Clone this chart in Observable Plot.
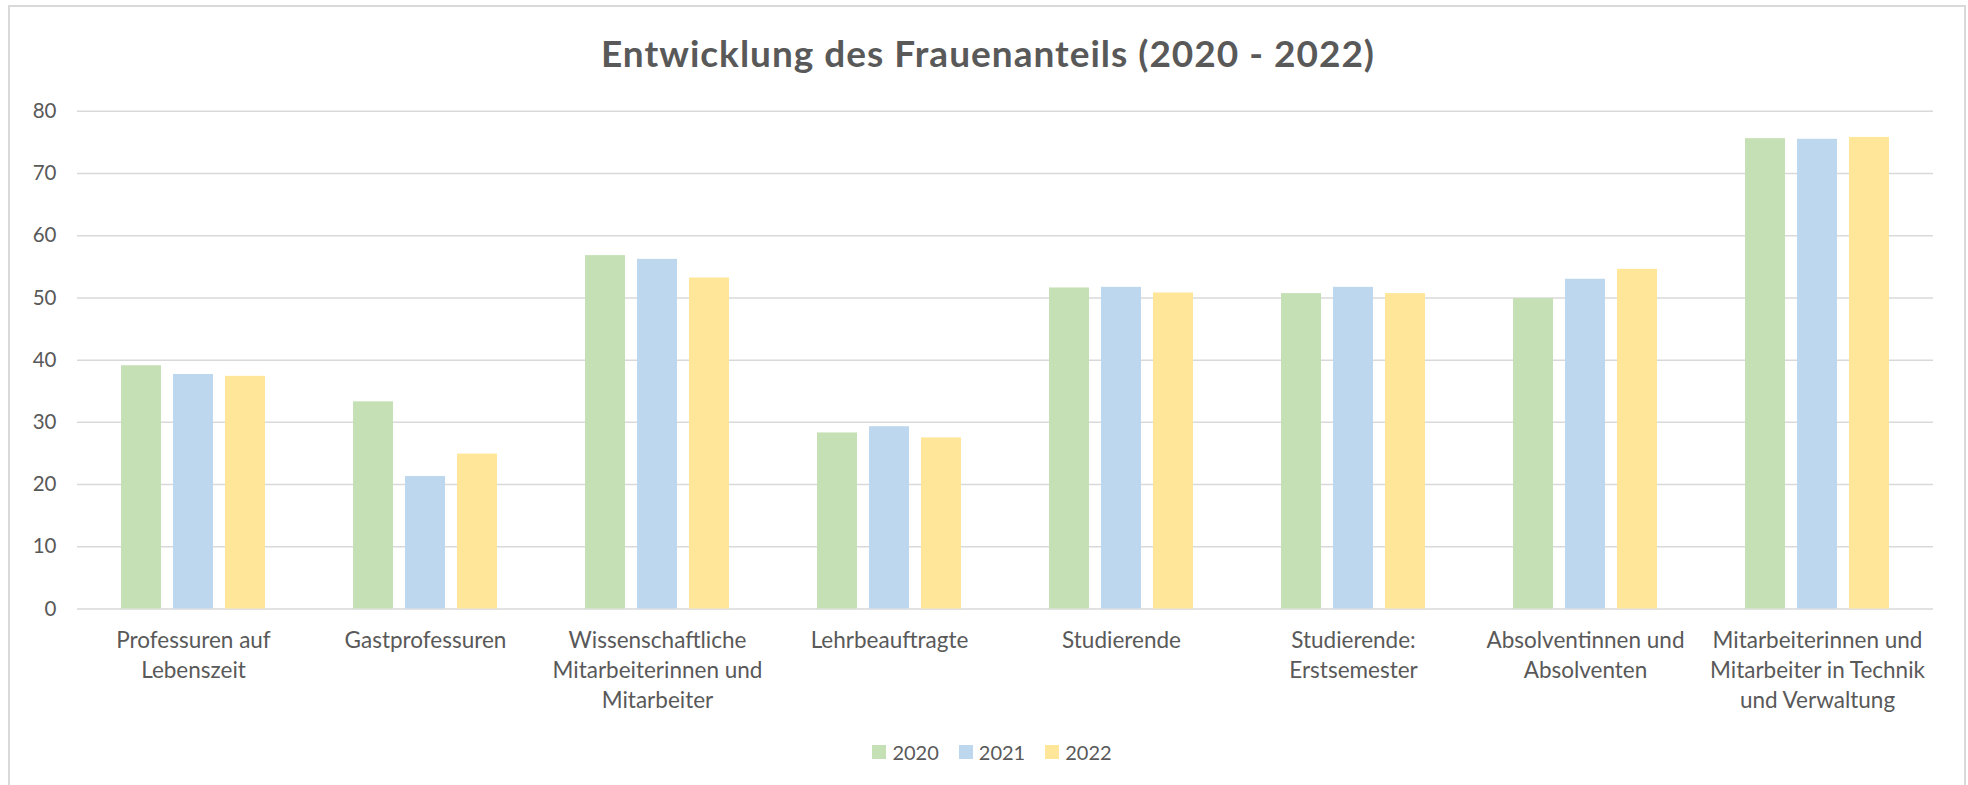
<!DOCTYPE html>
<html>
<head>
<meta charset="utf-8">
<script src="https://cdn.jsdelivr.net/npm/d3@7"></script>
<script src="https://cdn.jsdelivr.net/npm/@observablehq/plot@0.6"></script>
<style>
  html, body { margin: 0; padding: 0; background: #fff; }
  body { width: 1968px; height: 785px; position: relative; overflow: hidden; font-family: Lato, sans-serif; }
  #frame { position: absolute; left: 8px; top: 5px; width: 1958px; height: 800px; border: 2px solid #d9d9d9; box-sizing: border-box; }
  #title { position: absolute; left: 0; top: 30px; width: 1976px; text-align: center; font: bold 37px Lato, sans-serif; letter-spacing: 1px; color: #595959; line-height: 46px; }
  #chart { position: absolute; left: 0; top: 80px; }
  #legend { position: absolute; left: 0; top: 740px; width: 1968px; display: flex; justify-content: center; font: 20px Lato, sans-serif; color: #595959; padding-left: 16px; box-sizing: border-box; }
  .item { display: flex; align-items: center; margin: 0 10px; }
  .sw { width: 14px; height: 14px; margin-right: 6px; }
</style>
</head>
<body>
<div id="frame"></div>
<div id="title">Entwicklung des Frauenanteils (2020 - 2022)</div>
<div id="chart"></div>
<div id="legend"></div>
<script>
const categories = [
  "Professuren auf Lebenszeit",
  "Gastprofessuren",
  "Wissenschaftliche Mitarbeiterinnen und Mitarbeiter",
  "Lehrbeauftragte",
  "Studierende",
  "Studierende: Erstsemester",
  "Absolventinnen und Absolventen",
  "Mitarbeiterinnen und Mitarbeiter in Technik und Verwaltung"
];
const tickLabels = [
  "Professuren auf\nLebenszeit",
  "Gastprofessuren",
  "Wissenschaftliche\nMitarbeiterinnen und\nMitarbeiter",
  "Lehrbeauftragte",
  "Studierende",
  "Studierende:\nErstsemester",
  "Absolventinnen und\nAbsolventen",
  "Mitarbeiterinnen und\nMitarbeiter in Technik\nund Verwaltung"
];
const years = ["2020", "2021", "2022"];
const values2020 = [39.1, 33.3, 56.8, 28.3, 51.6, 50.7, 49.9, 75.6];
const values2021 = [37.7, 21.3, 56.2, 29.3, 51.7, 51.7, 53.0, 75.5];
const values2022 = [37.4, 24.9, 53.2, 27.5, 50.8, 50.7, 54.6, 75.8];
const yTicks = [0, 10, 20, 30, 40, 50, 60, 70, 80];
const colors = ["#C5E0B4", "#BDD7EE", "#FFE699"];

const series = [values2020, values2021, values2022];
const data = categories.flatMap((c, i) =>
  years.map((y, j) => ({category: c, year: y, value: series[j][i]}))
);

const chart = Plot.plot({
  width: 1968,
  height: 640,
  marginTop: 30.8,
  marginBottom: 111.5,
  marginLeft: 73,
  marginRight: 32,
  style: {fontFamily: "Lato, sans-serif", fontSize: "20px", color: "#595959", background: "transparent", overflow: "visible"},
  fx: {domain: categories, padding: 0, label: null},
  x: {domain: years, paddingInner: 0.223, paddingOuter: 0.83, axis: null},
  y: {domain: [0, 80], label: null},
  color: {domain: years, range: colors},
  marks: [
    Plot.ruleY(yTicks, {stroke: "#d9d9d9", strokeWidth: 1.5}),
    Plot.barY(data, {fx: "category", x: "year", y: "value", fill: "year"}),
    Plot.axisY({ticks: yTicks, tickSize: 0, tickPadding: 21, label: null, color: "#595959", fontSize: 20.5}),
    Plot.axisFx({
      anchor: "bottom",
      tickSize: 0,
      tickPadding: 18,
      label: null,
      color: "#595959",
      fontSize: 22.5,
      lineHeight: 1.33,
      tickFormat: (d) => tickLabels[categories.indexOf(d)]
    })
  ]
});
document.getElementById("chart").appendChild(chart);

const legend = document.getElementById("legend");
years.forEach((y, j) => {
  const item = document.createElement("div");
  item.className = "item";
  const sw = document.createElement("span");
  sw.className = "sw";
  sw.style.background = colors[j];
  const t = document.createElement("span");
  t.textContent = y;
  item.appendChild(sw);
  item.appendChild(t);
  legend.appendChild(item);
});
</script>
</body>
</html>
